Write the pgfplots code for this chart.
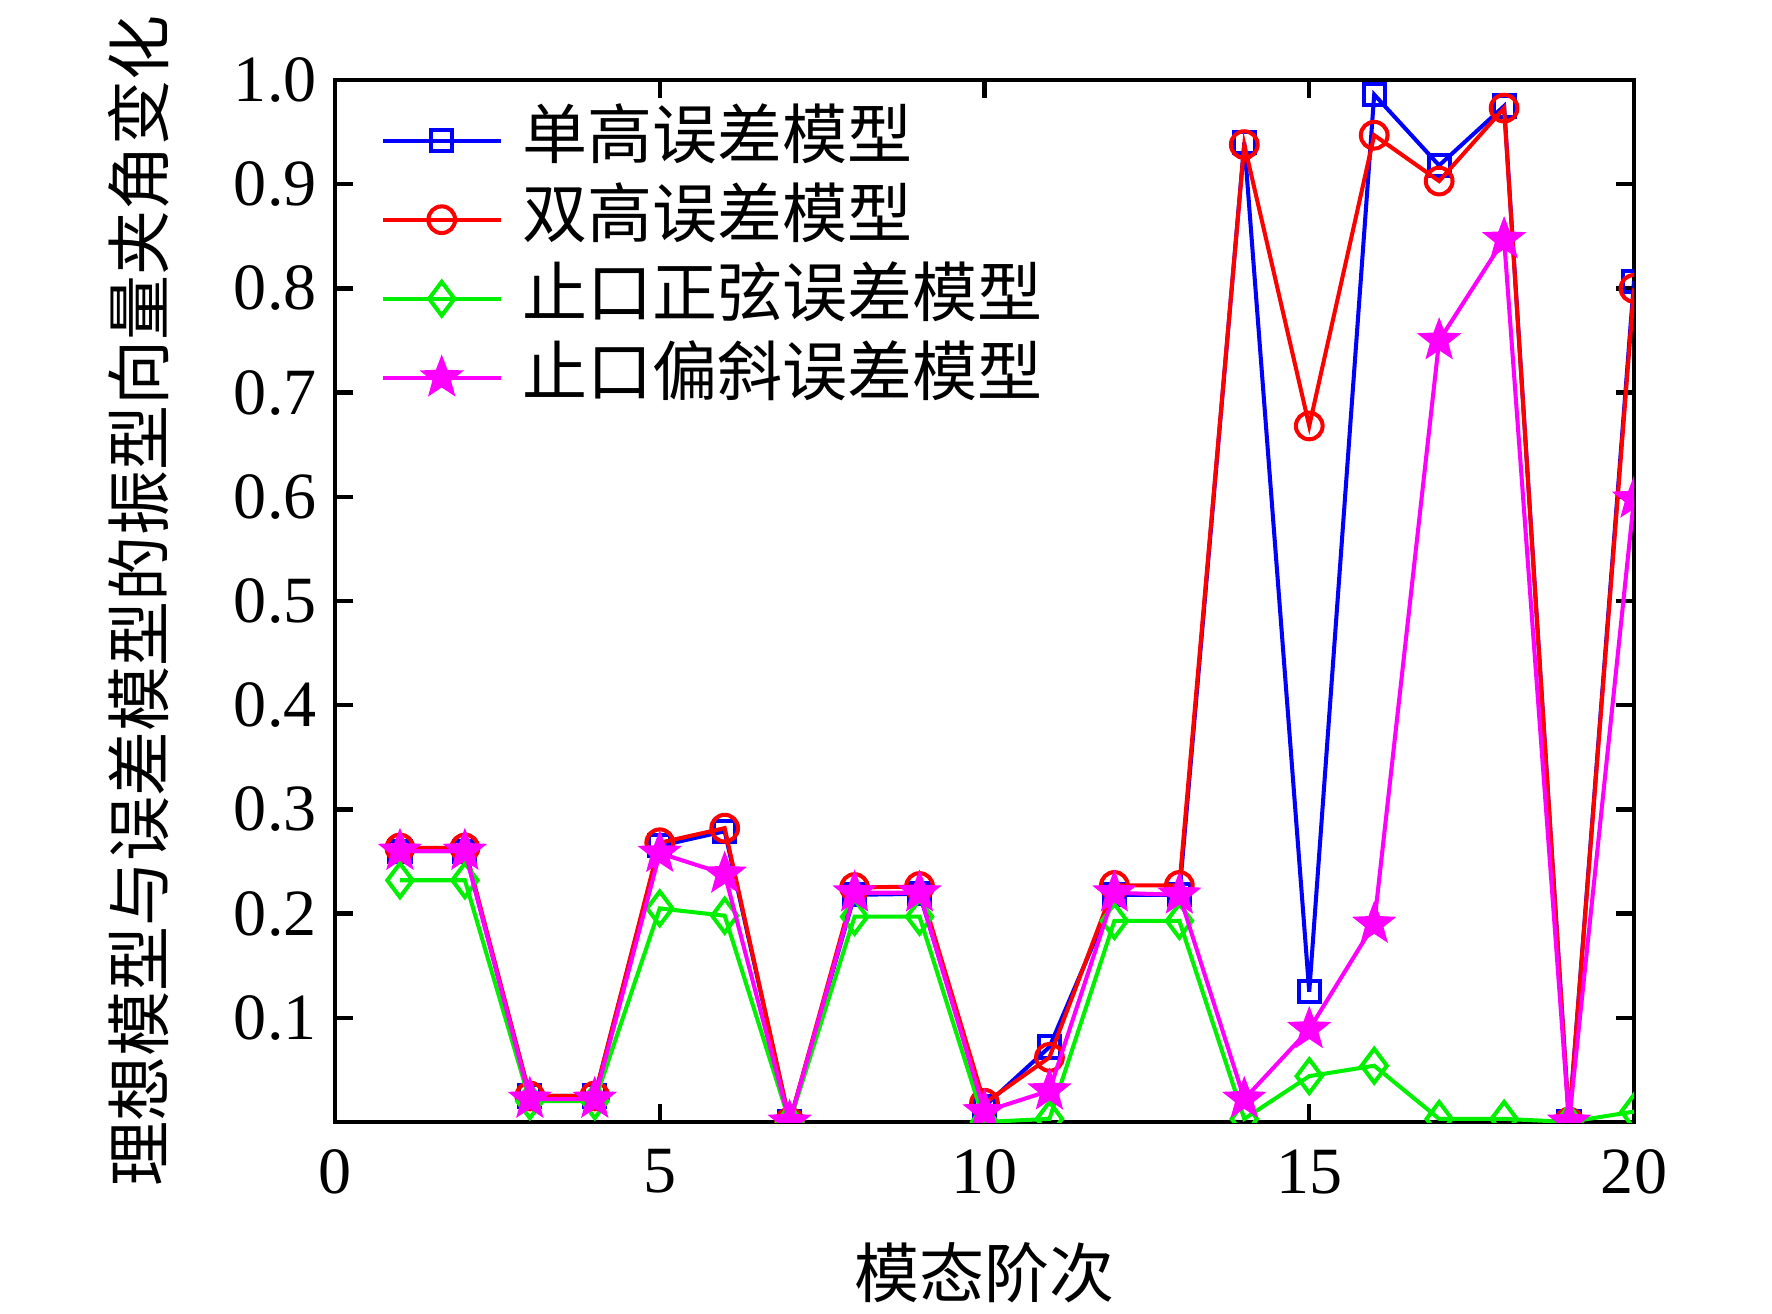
\documentclass[border=0pt]{standalone}
\usepackage{fontspec}
\setmainfont{Liberation Serif}
\newfontfamily\cjk{Noto Sans CJK SC}
\usepackage{pgfplots}
\pgfplotsset{compat=1.18}

\pgfdeclareplotmark{pstar}{%
  \pgfpathmoveto{\pgfqpointpolar{90}{\pgfplotmarksize}}%
  \pgfpathlineto{\pgfqpointpolar{126}{0.42\pgfplotmarksize}}%
  \pgfpathlineto{\pgfqpointpolar{162}{\pgfplotmarksize}}%
  \pgfpathlineto{\pgfqpointpolar{198}{0.42\pgfplotmarksize}}%
  \pgfpathlineto{\pgfqpointpolar{234}{\pgfplotmarksize}}%
  \pgfpathlineto{\pgfqpointpolar{270}{0.42\pgfplotmarksize}}%
  \pgfpathlineto{\pgfqpointpolar{306}{\pgfplotmarksize}}%
  \pgfpathlineto{\pgfqpointpolar{342}{0.42\pgfplotmarksize}}%
  \pgfpathlineto{\pgfqpointpolar{18}{\pgfplotmarksize}}%
  \pgfpathlineto{\pgfqpointpolar{54}{0.42\pgfplotmarksize}}%
  \pgfpathclose
  \pgfusepathqfillstroke
}

\definecolor{cblue}{RGB}{0,0,255}
\definecolor{cred}{RGB}{255,0,0}
\definecolor{cgreen}{RGB}{0,240,0}
\definecolor{cmag}{RGB}{255,0,255}

\begin{document}
\begin{tikzpicture}
\begin{axis}[
  scale only axis, width=12.99cm, height=10.42cm,
  xmin=0, xmax=20, ymin=0, ymax=1,
  xtick={0,5,10,15,20},
  ytick={0.1,0.2,0.3,0.4,0.5,0.6,0.7,0.8,0.9,1.0},
  tick pos=both, xticklabel pos=bottom, yticklabel pos=left,
  tick align=inside,
  major tick length=0.18cm,
  axis line style={line width=1.2pt},
  tick style={line width=1.2pt, black},
  every axis plot/.append style={line width=1.15pt},
  clip marker paths=true,
  /pgf/number format/assume math mode=true,
  yticklabel style={/pgf/number format/fixed, /pgf/number format/fixed zerofill, /pgf/number format/precision=1, xshift=-0.06cm},
  xticklabel style={yshift=-0.15cm},
  tick label style={font=\fontsize{18.8}{20}\selectfont},
  xlabel={模态阶次},
  ylabel={理想模型与误差模型的振型向量夹角变化},
  label style={font=\cjk\fontsize{18.5}{20}\selectfont},
  xlabel style={at={(axis description cs:0.5,-0.145)}, anchor=center},
  ylabel style={at={(axis description cs:-0.151,0.5)}, anchor=center},
  legend image code/.code={\draw[mark repeat=2,mark phase=2,#1] plot coordinates {(0cm,0cm) (0.59cm,0cm) (1.18cm,0cm)};},
  legend style={at={(axis description cs:0,1)}, anchor=north west, xshift=0.45cm, yshift=-0.28cm,
    draw=none, fill=none, inner sep=0pt, row sep=0.15cm,
    font=\cjk\fontsize{18.5}{20}\selectfont,
    nodes={inner sep=0pt, text height=0.5cm, text depth=0.14cm}},
  legend cell align=left,
]
\addplot[color=cblue, mark=square, mark size=3pt] coordinates {
(1,0.260)(2,0.260)(3,0.025)(4,0.025)(5,0.265)(6,0.279)(7,0.0)(8,0.218)(9,0.219)(10,0.015)
(11,0.072)(12,0.218)(13,0.218)(14,0.940)(15,0.125)(16,0.986)(17,0.918)(18,0.975)(19,0.0)(20,0.807)};
\addlegendentry{\hspace{0.2cm}单高误差模型}
\addplot[color=cred, mark=o, mark size=3.8pt] coordinates {
(1,0.263)(2,0.263)(3,0.025)(4,0.025)(5,0.268)(6,0.282)(7,0.0)(8,0.225)(9,0.226)(10,0.018)
(11,0.062)(12,0.227)(13,0.227)(14,0.938)(15,0.668)(16,0.947)(17,0.903)(18,0.973)(19,0.0)(20,0.800)};
\addlegendentry{\hspace{0.2cm}双高误差模型}
\addplot[color=cgreen, mark=diamond, mark size=4.8pt] coordinates {
(1,0.232)(2,0.232)(3,0.020)(4,0.020)(5,0.205)(6,0.198)(7,0.0)(8,0.197)(9,0.197)(10,0.0)
(11,0.003)(12,0.193)(13,0.193)(14,0.003)(15,0.044)(16,0.054)(17,0.003)(18,0.003)(19,0.0)(20,0.010)};
\addlegendentry{\hspace{0.2cm}止口正弦误差模型}
\addplot[color=cmag, mark=pstar, mark size=5pt, mark options={fill=cmag}] coordinates {
(1,0.260)(2,0.260)(3,0.022)(4,0.022)(5,0.258)(6,0.238)(7,0.0)(8,0.220)(9,0.220)(10,0.010)
(11,0.030)(12,0.220)(13,0.218)(14,0.022)(15,0.089)(16,0.190)(17,0.750)(18,0.847)(19,0.0)(20,0.598)};
\addlegendentry{\hspace{0.2cm}止口偏斜误差模型}
\end{axis}
\pgfresetboundingbox
\path (current axis.north east) ++(1.38cm,0.80cm) coordinate (ne);
\path (current axis.south west) ++(-3.35cm,-1.91cm) coordinate (sw);
\path[use as bounding box] (sw) rectangle (ne);
\end{tikzpicture}
\end{document}
